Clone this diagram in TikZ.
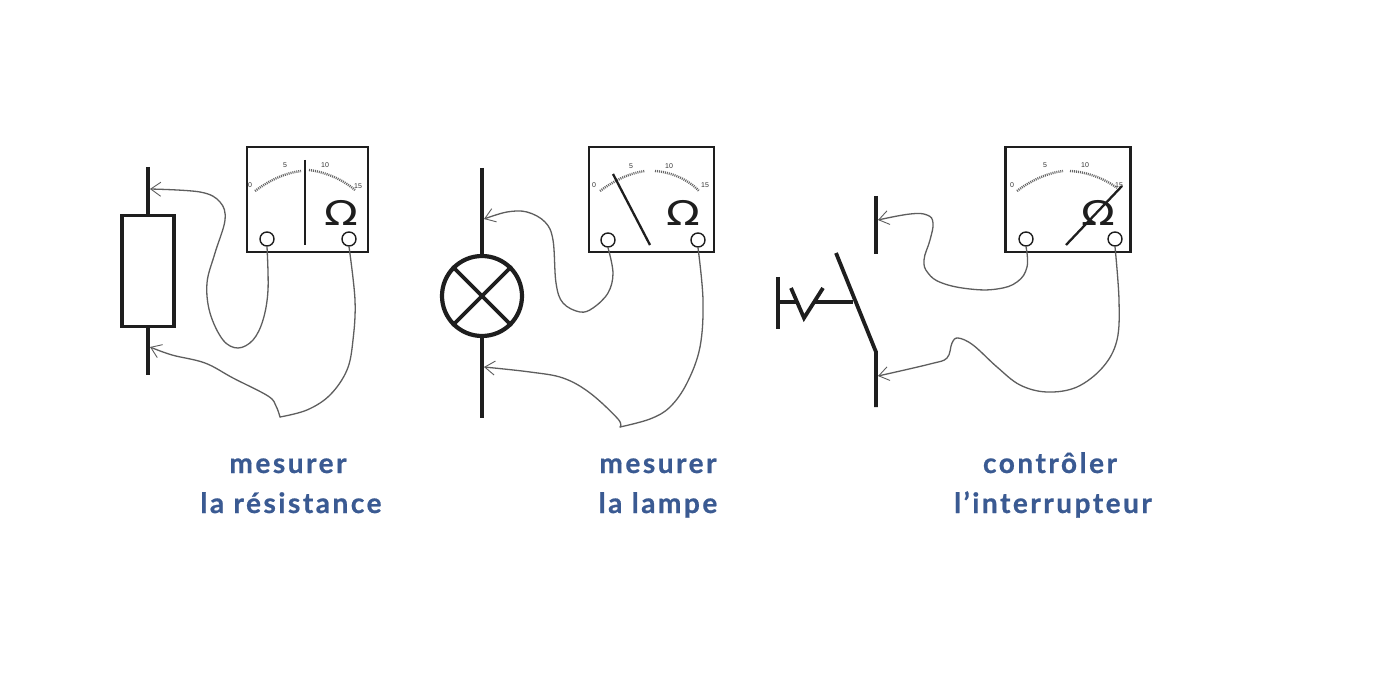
\documentclass[tikz,border=0pt]{standalone}
\usepackage{fontspec}
\usepackage{graphicx}
\setmainfont{Lato}
\newfontfamily\capfont[LetterSpace=9,FakeBold=0.7]{Lato}
\newfontfamily\omegafont{DejaVu Sans}
\newfontfamily\tickfont{Liberation Sans}
\usetikzlibrary{arrows.meta}
\definecolor{labelblue}{HTML}{3A5A92}
\definecolor{wiregray}{HTML}{5E5E5E}
\definecolor{inkblack}{HTML}{1E1E1E}
\tikzset{
  sym/.style={draw=inkblack,line width=3.8pt},
  metbox/.style={draw=inkblack,line width=2.6pt,fill=white},
  needle/.style={draw=inkblack,line width=2.3pt},
  term/.style={circle,draw=inkblack,line width=1.4pt,fill=white,minimum size=14pt,inner sep=0pt},
  scalemark/.style={draw=black!60,line width=2.4pt,dash pattern=on 1pt off 1pt},
  tick/.style={font=\tickfont\fontsize{7}{8}\selectfont,text=black!80,inner sep=0pt},
  ohm/.style={font=\omegafont\fontsize{34}{36}\selectfont,text=inkblack,inner sep=0pt},
  wire/.style={draw=wiregray,line width=1.3pt,line cap=round},
  wiretip/.style={wire,-{Straight Barb[length=10pt,width=14pt,line width=0.9pt]}},
  caption/.style={anchor=base,font=\capfont\bfseries\fontsize{28}{31}\selectfont,text=labelblue,inner sep=0pt,align=center}
}
\newcommand{\ohmsign}{\scalebox{1.3}[1]{Ω}}
\begin{document}
\begin{tikzpicture}[x=1pt,y=-1pt]
\useasboundingbox (0,0) rectangle (1400,700);
\fill[white] (0,0) rectangle (1400,700);

% ---------- meter 1
\node[metbox,minimum width=121pt,minimum height=105pt,inner sep=0pt] (m1) at (307.5,199.5) {};
\node[term] (a1) at (267,239) {};
\node[term] (a2) at (349,239) {};
\draw[scalemark] (255,191) .. controls (270,180) and (285,173) .. (301,171);
\draw[scalemark] (309,170) .. controls (325,172) and (342,179) .. (355,190);
\node[tick] (a0) at (250,185) {0};
\node[tick] (a5) at (285,165) {5};
\node[tick] (a10) at (325,165) {10};
\node[tick] (a15) at (358,186) {15};
\node[ohm] (aO) at (341,213) {\ohmsign};
\draw[needle] (305,160) -- (305,245);

% resistor
\node[draw=inkblack,line width=3.8pt,minimum width=52pt,minimum height=111pt,inner sep=0pt] (r) at (148,271) {};
\coordinate (rt) at (148,167);
\coordinate (rb) at (148,375);
\draw[sym] (rt) -- (r.north);
\draw[sym] (r.south) -- (rb);
\coordinate (rw1) at (150,189);
\coordinate (rw2) at (150,347);
\draw[wiretip] plot[smooth,tension=0.6] coordinates {(a1.south) (268,290) (263,320) (253,340) (238,348) (223,340) (210,313) (207,283) (215,253) (225,220) (220,202) (200,192) (rw1)};
\coordinate (ka) at (280,417);
\draw[wire] plot[smooth,tension=0.6] coordinates {(a2.south) (355,300) (353,340) (347,370) (330,395) (307,410) (ka)};
\draw[wiretip] plot[smooth,tension=0.6] coordinates {(ka) (276,406) (268,396) (233,378) (205,363) (172,355) (rw2)};

% ---------- meter 2
\node[metbox,minimum width=125pt,minimum height=105pt,inner sep=0pt] (m2) at (651.5,199.5) {};
\node[term] (b1) at (608,240) {};
\node[term] (b2) at (698,240) {};
\draw[scalemark] (600,191) .. controls (615,180) and (630,173) .. (645,171);
\draw[scalemark] (655,171) .. controls (670,172) and (688,179) .. (699,191);
\node[tick] (b0) at (594,185) {0};
\node[tick] (b5) at (631,166) {5};
\node[tick] (b10) at (669,166) {10};
\node[tick] (b15) at (705,185) {15};
\node[ohm] (bO) at (683,213) {\ohmsign};
\draw[needle] (613,174) -- (650,245);

% lamp
\node[circle,draw=inkblack,line width=4.2pt,minimum size=80pt,inner sep=0pt] (l) at (482,296) {};
\coordinate (lt) at (482,168);
\coordinate (lb) at (482,418);
\draw[sym] (lt) -- (l.north);
\draw[sym] (l.south) -- (lb);
\draw[sym] (l.north west) -- (l.south east);
\draw[sym] (l.north east) -- (l.south west);
\coordinate (lw1) at (484,219);
\coordinate (lw2) at (484,367);
\draw[wiretip] plot[smooth,tension=0.6] coordinates {(b1.south) (613,273) (608,293) (593,308) (580,312) (563,303) (556,283) (553,240) (545,222) (527,212) (507,212) (lw1)};
\coordinate (kb) at (620,427);
\draw[wire] plot[smooth,tension=0.6] coordinates {(b2.south) (703,300) (700,347) (687,383) (670,407) (650,419) (kb)};
\draw[wiretip] plot[smooth,tension=0.6] coordinates {(kb) (618,419) (590,393) (563,378) (530,372) (lw2)};

% ---------- meter 3
\node[metbox,minimum width=125pt,minimum height=105pt,inner sep=0pt] (m3) at (1068,199.5) {};
\node[term] (c1) at (1026,239) {};
\node[term] (c2) at (1115,239) {};
\draw[scalemark] (1017,191) .. controls (1030,181) and (1047,173) .. (1063,171);
\draw[scalemark] (1070,171) .. controls (1088,172) and (1105,179) .. (1117,188);
\node[tick] (c0) at (1012,185) {0};
\node[tick] (c5) at (1045,165) {5};
\node[tick] (c10) at (1085,165) {10};
\node[tick] (c15) at (1119,185) {15};
\node[ohm] (cO) at (1098,213) {\ohmsign};
\draw[needle] (1066,245) -- (1122,186);

% switch
\coordinate (s1) at (876,196);
\coordinate (s2) at (876,254);
\coordinate (s3) at (876,352);
\coordinate (s4) at (876,407);
\coordinate (s5) at (836,253);
\coordinate (p1) at (778,277);
\coordinate (p2) at (778,329);
\coordinate (p3) at (778,302);
\coordinate (p3b) at (797,302);
\coordinate (p4b) at (815,302);
\coordinate (p4) at (853,302);
\coordinate (z1) at (791,288);
\coordinate (z2) at (804,318);
\coordinate (z3) at (823,288);
\draw[sym] (s1) -- (s2);
\draw[sym] (s5) -- (s3) -- (s4);
\draw[sym] (p1) -- (p2);
\draw[sym] (p3) -- (p3b);
\draw[sym] (p4b) -- (p4);
\draw[sym] (z1) -- (z2) -- (z3);
\coordinate (sw1) at (878,220);
\coordinate (sw2) at (878,376);
\draw[wiretip] plot[smooth,tension=0.7] coordinates {(c1.south) (1027,267) (1017,282) (997,289) (970,289) (942,283) (928,273) (924,260) (930,240) (933,223) (927,215) (910,214) (sw1)};
\draw[wiretip] plot[smooth,tension=0.6] coordinates {(c2.south) (1119,300) (1117,340) (1103,367) (1077,387) (1047,392) (1020,385) (997,367) (973,345) (958,338) (952,343) (947,358) (930,364) (sw2)};

% ---------- captions
\node[caption] (t1) at (288,473) {mesurer};
\node[caption] (t2) at (291,513) {la résistance};
\node[caption] (t3) at (658,473) {mesurer};
\node[caption] (t4) at (658,513) {la lampe};
\node[caption] (t5) at (1050,473) {contrôler};
\node[caption] (t6) at (1053,513) {l’interrupteur};
\end{tikzpicture}
\end{document}
